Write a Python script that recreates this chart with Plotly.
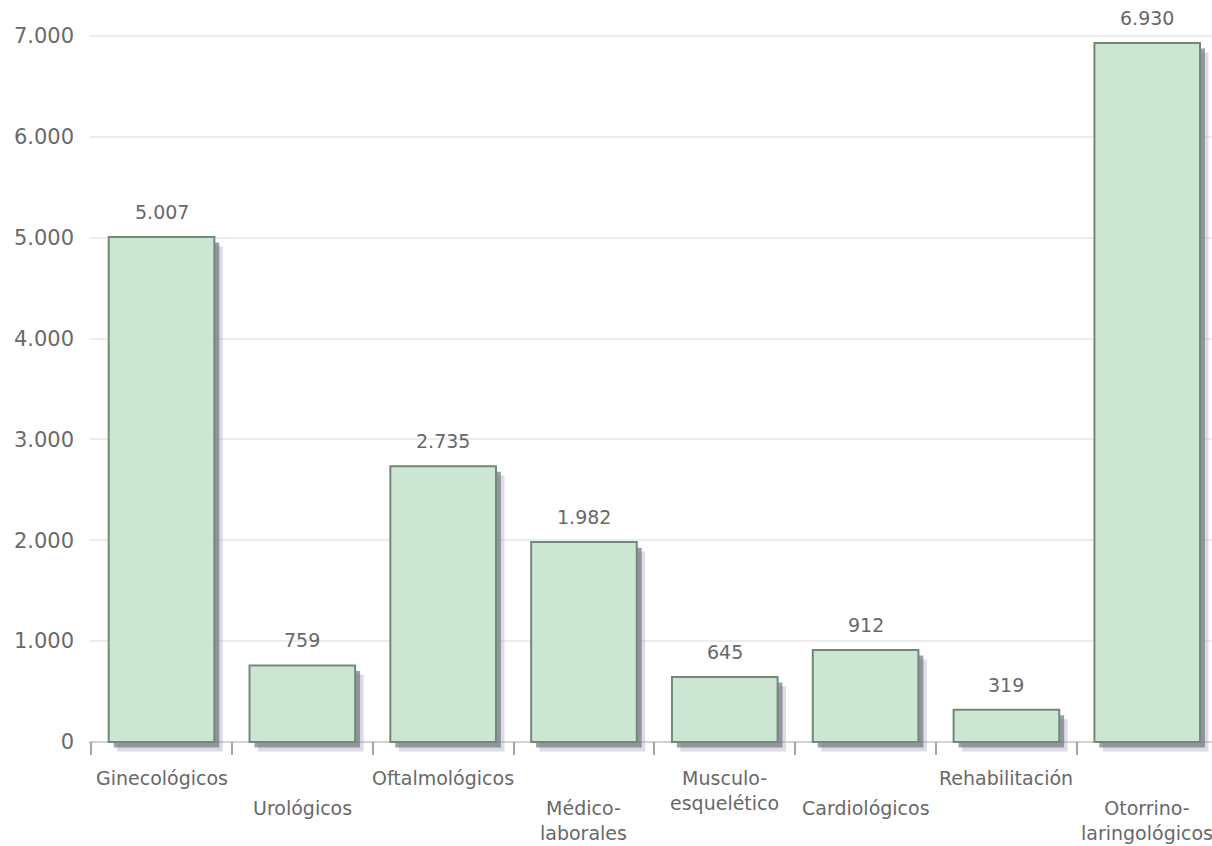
import plotly.graph_objects as go

# Data
categories = ["Ginecológicos", "Urológicos", "Oftalmológicos", "Médico-laborales",
              "Musculo-esquelético", "Cardiológicos", "Rehabilitación", "Otorrino-laringológicos"]
labels = ["Ginecológicos", "Urológicos", "Oftalmológicos", "Médico-<br>laborales",
          "Musculo-<br>esquelético", "Cardiológicos", "Rehabilitación", "Otorrino-<br>laringológicos"]
values = [5007, 759, 2735, 1982, 645, 912, 319, 6930]
y_ticks = [0, 1000, 2000, 3000, 4000, 5000, 6000, 7000]


def fmt(v):
    return f"{v:,}".replace(",", ".")


BAR_W = 0.75
FILL = "#cde6d3"
EDGE = "#72897a"
TEXT = "#686868"
FONT = "DejaVu Sans"

# y range chosen so 0 sits on the baseline with a small strip below it
Y0, Y1 = -129, 7357
SHIFT = 55  # shadow drop in data units (~5-6 px)

fig = go.Figure()

# keeps the base axes alive; all marks live on the overlaying axes
fig.add_trace(go.Scatter(x=categories, y=[None] * len(categories), mode="markers",
                         hoverinfo="skip", showlegend=False))
# soft outer shadow
fig.add_trace(go.Bar(
    x=categories, y=values, width=BAR_W, offset=-BAR_W / 2 + 0.06,
    marker=dict(color="rgba(170,168,190,0.4)", line=dict(width=0)),
    yaxis="y2", hoverinfo="skip", showlegend=False,
))
# darker inner shadow
fig.add_trace(go.Bar(
    x=categories, y=values, width=BAR_W, offset=-BAR_W / 2 + 0.035,
    marker=dict(color="rgba(105,108,120,0.65)", line=dict(width=0)),
    yaxis="y3", hoverinfo="skip", showlegend=False,
))
# bars
fig.add_trace(go.Bar(
    x=categories, y=values, width=BAR_W, offset=-BAR_W / 2,
    marker=dict(color=FILL, line=dict(color=EDGE, width=2)),
    yaxis="y4", showlegend=False,
))

annotations = []
for i, v in enumerate(values):
    annotations.append(dict(
        x=i, y=v, xref="x", yref="y", text=fmt(v), showarrow=False,
        yanchor="bottom", yshift=12,
        font=dict(family=FONT, size=19, color=TEXT),
    ))
for i, c in enumerate(labels):
    annotations.append(dict(
        x=i, y=0, xref="x", yref="y", text=c, showarrow=False,
        yanchor="top", yshift=-23 if i % 2 == 0 else -53,
        font=dict(family=FONT, size=19, color=TEXT),
    ))

fig.update_layout(
    width=1212, height=846,
    margin=dict(l=89, r=0, t=0, b=91),
    paper_bgcolor="white", plot_bgcolor="white",
    barmode="overlay",
    annotations=annotations,
    xaxis=dict(
        type="category", range=[-0.515, 7.46], showticklabels=False,
        tickson="boundaries", ticks="inside", ticklen=13, tickwidth=2,
        tickcolor="#a5a5a5", showgrid=False, showline=False, zeroline=False,
    ),
    yaxis=dict(
        range=[Y0, Y1], tickvals=y_ticks, ticktext=[fmt(t) for t in y_ticks],
        showgrid=True, gridcolor="#ececec", gridwidth=2,
        zeroline=True, zerolinecolor="#d2d2d2", zerolinewidth=2,
        showline=False, ticks="", ticklabelstandoff=14,
        tickfont=dict(family=FONT, size=21, color="#6a6a6a"),
    ),
    yaxis2=dict(range=[Y0 + SHIFT * 1.7, Y1 + SHIFT * 1.7], overlaying="y", visible=False),
    yaxis3=dict(range=[Y0 + SHIFT, Y1 + SHIFT], overlaying="y", visible=False),
    yaxis4=dict(range=[Y0, Y1], overlaying="y", visible=False),
)

fig.write_html("out.html")
